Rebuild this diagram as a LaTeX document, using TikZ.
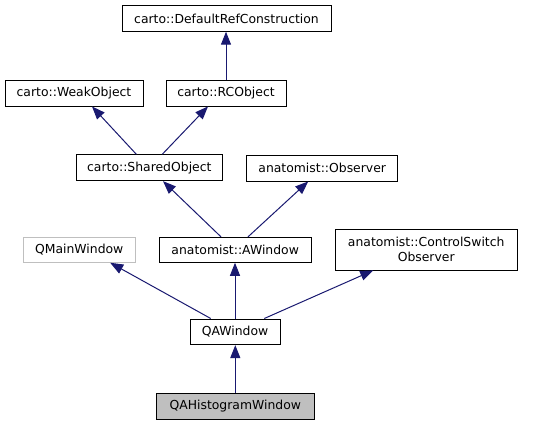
\documentclass[tikz,border=0pt]{standalone}
\usepackage{fontspec}
\setmainfont{DejaVu Sans}
\usetikzlibrary{arrows.meta}
\definecolor{edgeblue}{HTML}{191970}
\definecolor{greyfill}{HTML}{BFBFBF}
\tikzset{
  cls/.style={draw=black, line width=0.9pt, fill=white, inner sep=0pt, font=\fontsize{12.4}{15}\selectfont, align=center},
  ext/.style={cls, draw=greyfill},
  cur/.style={cls, fill=greyfill},
  inh/.style={draw=edgeblue, line width=1pt, -{Triangle[length=13pt,width=10pt]}, shorten >=0pt}
}
\begin{document}
\begin{tikzpicture}[x=1pt,y=1pt]
\useasboundingbox (0,0) rectangle (536,-425);
\node[cls, minimum width=209pt, minimum height=25.5pt] (def) at (226.5,-18.5) {carto::DefaultRefConstruction};
\node[cls, minimum width=138pt, minimum height=26pt] (weak) at (74,-93) {carto::WeakObject};
\node[cls, minimum width=120pt, minimum height=26pt] (rc) at (226,-93) {carto::RCObject};
\node[cls, minimum width=146.7pt, minimum height=26pt] (shared) at (149.3,-167.7) {carto::SharedObject};
\node[cls, minimum width=151pt, minimum height=26pt] (obs) at (322.2,-168) {anatomist::Observer};
\node[ext, minimum width=112.3pt, minimum height=25pt, text=black] (qmain) at (79.2,-249.8) {QMainWindow};
\node[cls, minimum width=152.3pt, minimum height=25pt] (awin) at (235.2,-249.8) {anatomist::AWindow};
\node[cls, minimum width=182.3pt, minimum height=40.3pt] (ctrl) at (426.2,-249.8) {anatomist::ControlSwitch\\Observer};
\node[cls, minimum width=90pt, minimum height=25.7pt] (qaw) at (235,-331.8) {QAWindow};
\node[cur, minimum width=157.3pt, minimum height=26pt] (hist) at (235.3,-406.3) {QAHistogramWindow};
\draw[inh] (rc.north) -- (rc.north |- def.south);
\draw[inh] ([xshift=-13pt]shared.north) -- ([xshift=18pt]weak.south);
\draw[inh] ([xshift=13pt]shared.north) -- ([xshift=-18pt]rc.south);
\draw[inh] ([xshift=-14.2pt]awin.north) -- ([xshift=13.7pt]shared.south);
\draw[inh] ([xshift=12.8pt]awin.north) -- ([xshift=-14pt]obs.south);
\draw[inh] ([xshift=-24.3pt]qaw.north) -- ([xshift=31pt]qmain.south);
\draw[inh] (qaw.north) -- (qaw.north |- awin.south);
\draw[inh] ([xshift=29.3pt]qaw.north) -- ([xshift=-53pt]ctrl.south);
\draw[inh] (hist.north) -- (hist.north |- qaw.south);
\end{tikzpicture}
\end{document}
